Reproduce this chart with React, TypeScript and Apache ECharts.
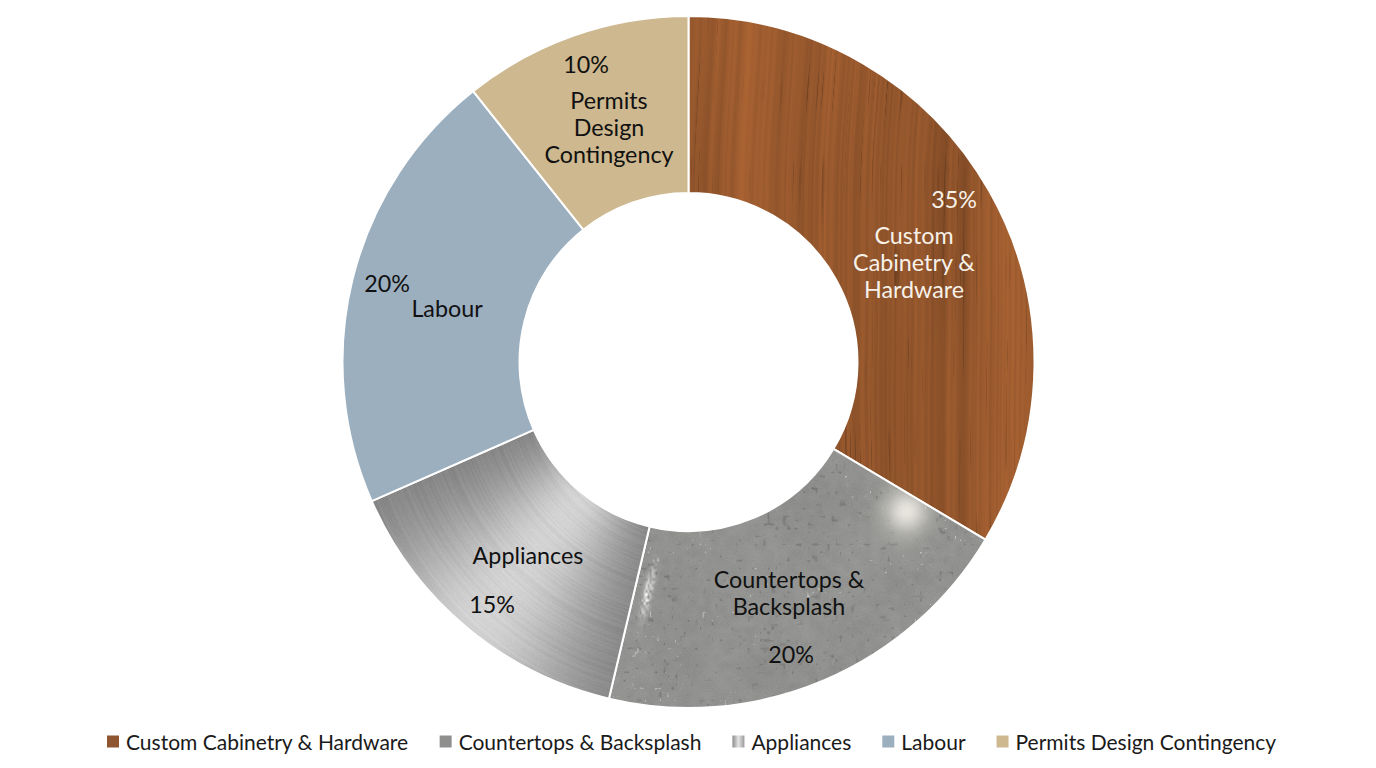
import React, { useEffect, useRef } from "react";
import * as echarts from "echarts";

const categories = ["Custom Cabinetry & Hardware", "Countertops & Backsplash", "Appliances", "Labour", "Permits Design Contingency"];
const wrappedNames = ["Custom\nCabinetry &\nHardware", "Countertops &\nBacksplash", "Appliances", "Labour", "Permits\nDesign\nContingency"];
// Printed percentages, as the picture labels them.
const printedPercent = [35, 20, 15, 20, 10];
const measuredSpans = [120.9, 72.4, 53, 75.2, 38.5];
const nameAnchors = [[914, 262], [789, 592], [528, 555], [447, 308], [609, 127]];
const percentAnchors = [[954, 199], [791, 654], [492, 604], [387, 283], [586, 64]];
const labelColors = ["#f7f1e8", "#111111", "#111111", "#111111", "#111111"];
const swatches = ["#8f5530", "#8f908e", "", "#9cafbf", "#cdb88f"];

const W = 1376, H = 768, CX = 688.5, CY = 362;
const hash = (a: number, b = 0) => {
  const s = Math.sin(a * 127.1 + b * 311.7) * 43758.5453;
  return s - Math.floor(s);
};
const vnoise = (x: number) => {
  const i = Math.floor(x), f = x - i, u = f * f * (3 - 2 * f);
  return hash(i) * (1 - u) + hash(i + 1) * u;
};
const vnoise2 = (x: number, y: number) => {
  const i = Math.floor(x), j = Math.floor(y), f = x - i, g = y - j;
  const u = f * f * (3 - 2 * f), v = g * g * (3 - 2 * g);
  const a = hash(i, j), b = hash(i + 1, j), c = hash(i, j + 1), d = hash(i + 1, j + 1);
  return (a * (1 - u) + b * u) * (1 - v) + (c * (1 - u) + d * u) * v;
};

function texture(paint: (x: number, y: number) => [number, number, number], x0: number, y0: number, x1: number, y1: number) {
  const c = document.createElement("canvas");
  c.width = W; c.height = H;
  const ctx = c.getContext("2d")!;
  const w = x1 - x0, h = y1 - y0;
  const img = ctx.createImageData(w, h);
  for (let y = 0; y < h; y++) for (let x = 0; x < w; x++) {
    const p = paint(x + x0, y + y0), k = (y * w + x) * 4;
    img.data[k] = p[0]; img.data[k + 1] = p[1]; img.data[k + 2] = p[2]; img.data[k + 3] = 255;
  }
  ctx.putImageData(img, x0, y0);
  return c.toDataURL("image/png");
}

const wood = (x: number, y: number): [number, number, number] => {
  const wx = x + 12 * (vnoise2(x / 120, y / 180) - 0.5) + 0.02 * y;
  const broad = vnoise(wx / 42) - 0.5;
  const mid = vnoise(wx / 8 + 40) - 0.5;
  const fine = vnoise(wx / 1.8 + 90) - 0.5;
  const hue = vnoise2(x / 50, y / 200) - 0.5;
  const thin = vnoise2(wx / 1.6 + 7, y / 90);
  const darkStreak = Math.max(0, thin - 0.82) * 2.2;
  const s = 1 + 0.12 * broad + 0.09 * mid + 0.1 * fine + 0.08 * hue - 0.5 * darkStreak;
  return [151 * s, 88 * s, 45 * s];
};

const stone = (x: number, y: number): [number, number, number] => {
  let v = 145 + 9 * (vnoise2(x / 45, y / 45) - 0.5) + 7 * (vnoise2(x / 7, y / 7) - 0.5) + 6 * (hash(x, y) - 0.5);
  const d = vnoise2(x / 4 + 20, y / 4 + 3);
  if (d > 0.82) v -= (d - 0.82) * 130;
  const w = vnoise2(x / 2.5 + 60, y / 4 + 11);
  if (w > 0.88 && vnoise2(x / 28, y / 28) > 0.68) v += (w - 0.88) * 420;
  // pale vein near the left edge of the slice
  const vx = x - 648 + 0.22 * (y - 590), vy = y - 592;
  const vein = Math.exp(-(vx * vx) / 18 - (vy * vy) / 500) * vnoise2(x / 2, y / 3);
  v += 130 * vein;
  const hx = x - 906, hy = y - 511;
  const glow = Math.exp(-(hx * hx + hy * hy) / (2 * 15 * 15));
  const r = v + (228 - v) * glow;
  return [r + 4 * glow, r + 1, r - 2 - 4 * glow];
};

const metal = (x: number, y: number): [number, number, number] => {
  const dx = x - CX, dy = y - CY;
  const r = Math.sqrt(dx * dx + dy * dy);
  const a = (Math.atan2(dy, dx) * 180) / Math.PI; // degrees, screen coordinates
  const t = a - 129;
  const sheen = Math.exp(-(t * t) / (2 * 13 * 13));
  const side = 125 + 85 * sheen;
  const streak = 10 * (vnoise(r / 1.3 + a * 0.25) - 0.5) + 5 * (hash(x, y) - 0.5);
  const v = side + streak;
  return [v, v, v + 1];
};

function App() {
  const ref = useRef<HTMLDivElement>(null);
  useEffect(() => {
    const chart = echarts.init(ref.current!, undefined, { renderer: "svg" });
    const tex = (image: string) => ({ image, repeat: "repeat", imageWidth: W, imageHeight: H });
    const fills: any[] = [
      tex(texture(wood, 680, 10, 1040, 545)),
      tex(texture(stone, 600, 440, 990, 712)),
      tex(texture(metal, 365, 425, 655, 700)),
      swatches[3],
      swatches[4],
    ];
    const metalSwatch = {
      type: "linear", x: 0, y: 0, x2: 1, y2: 0,
      colorStops: [{ offset: 0, color: "#8c8c8c" }, { offset: 0.5, color: "#e4e4e4" }, { offset: 1, color: "#9a9a9a" }],
    };
    const base = {
      type: "pie",
      center: [CX, CY],
      radius: [169, 346],
      startAngle: 90,
      clockwise: true,
      silent: true,
      labelLine: { show: false },
      emphasis: { disabled: true },
      minShowLabelAngle: 0,
    };
    chart.setOption({
      animation: false,
      backgroundColor: "#ffffff",
      legend: {
        left: 107,
        top: 731,
        padding: 0,
        icon: "rect",
        itemWidth: 12,
        itemHeight: 12,
        itemGap: 31,
        selectedMode: false,
        textStyle: { fontFamily: "Lato", fontSize: 21, color: "#1a1a1a", padding: [0, 0, 0, 2] },
        data: categories.map((name, i) => ({
          name,
          itemStyle: { color: i === 2 ? metalSwatch : swatches[i], borderWidth: 0 },
        })),
      },
      series: [
        {
          ...base,
          name: "Budget",
          itemStyle: { borderColor: "#ffffff", borderWidth: 2 },
          label: {
            show: true,
            position: "inside",
            fontFamily: "Lato",
            fontSize: 23.3,
            lineHeight: 27,
            formatter: (p: any) => wrappedNames[p.dataIndex],
          },
          labelLayout: (p: any) => ({
            x: nameAnchors[p.dataIndex][0],
            y: nameAnchors[p.dataIndex][1],
            align: "center",
            verticalAlign: "middle",
          }),
          data: categories.map((name, i) => ({
            name,
            value: measuredSpans[i],
            itemStyle: { color: fills[i] },
            label: { color: labelColors[i] },
          })),
        },
        {
          ...base,
          name: "Percent",
          itemStyle: { color: "rgba(0,0,0,0)", borderWidth: 0 },
          label: {
            show: true,
            position: "inside",
            fontFamily: "Lato",
            fontSize: 23.3,
            formatter: (p: any) => printedPercent[p.dataIndex] + "%",
          },
          labelLayout: (p: any) => ({
            x: percentAnchors[p.dataIndex][0],
            y: percentAnchors[p.dataIndex][1],
            align: "center",
            verticalAlign: "middle",
          }),
          data: categories.map((name, i) => ({
            name,
            value: measuredSpans[i],
            label: { color: labelColors[i] },
          })),
        },
      ],
    });
    return () => chart.dispose();
  }, []);
  return <div ref={ref} style={{ position: "absolute", left: 0, top: 0, width: W, height: H }} />;
}

export default App;
